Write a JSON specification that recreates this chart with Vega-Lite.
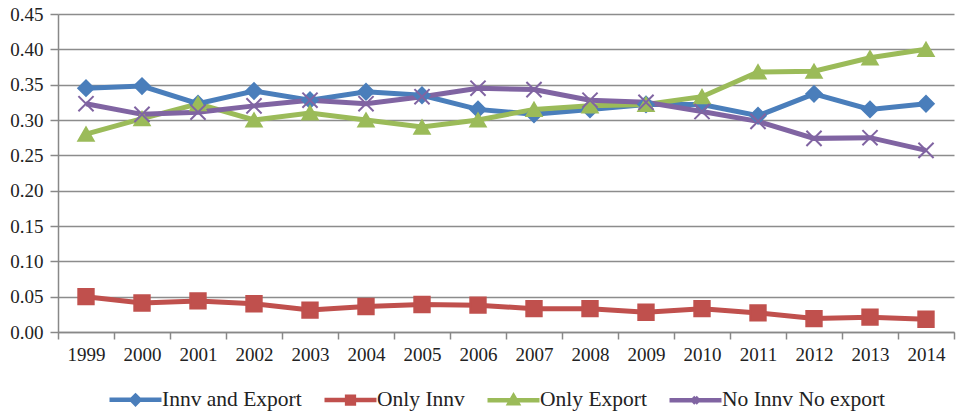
{
  "$schema": "https://vega.github.io/schema/vega-lite/v6.json",
  "width": 896,
  "height": 318,
  "autosize": {"type": "none"},
  "padding": {"left": 58, "top": 14, "right": 5, "bottom": 81},
  "background": "white",
  "config": {
    "view": {"stroke": null},
    "font": "Liberation Serif",
    "axis": {"labelFont": "Liberation Serif", "labelFontSize": 19, "labelColor": "#222", "domainColor": "#888", "tickColor": "#888", "gridColor": "#8c8c8c", "gridWidth": 1.5, "domainWidth": 1.5, "tickWidth": 1.5},
    "legend": {"labelFont": "Liberation Serif", "labelFontSize": 21.5, "labelColor": "#222", "labelLimit": 400}
  },
  "data": {"values": [
    {"year": "1999", "series": "Innv and Export", "v": 0.345},
    {"year": "2000", "series": "Innv and Export", "v": 0.348},
    {"year": "2001", "series": "Innv and Export", "v": 0.323},
    {"year": "2002", "series": "Innv and Export", "v": 0.341},
    {"year": "2003", "series": "Innv and Export", "v": 0.328},
    {"year": "2004", "series": "Innv and Export", "v": 0.340},
    {"year": "2005", "series": "Innv and Export", "v": 0.335},
    {"year": "2006", "series": "Innv and Export", "v": 0.315},
    {"year": "2007", "series": "Innv and Export", "v": 0.308},
    {"year": "2008", "series": "Innv and Export", "v": 0.315},
    {"year": "2009", "series": "Innv and Export", "v": 0.322},
    {"year": "2010", "series": "Innv and Export", "v": 0.322},
    {"year": "2011", "series": "Innv and Export", "v": 0.306},
    {"year": "2012", "series": "Innv and Export", "v": 0.337},
    {"year": "2013", "series": "Innv and Export", "v": 0.315},
    {"year": "2014", "series": "Innv and Export", "v": 0.323},
    {"year": "1999", "series": "Only Innv", "v": 0.050},
    {"year": "2000", "series": "Only Innv", "v": 0.041},
    {"year": "2001", "series": "Only Innv", "v": 0.044},
    {"year": "2002", "series": "Only Innv", "v": 0.040},
    {"year": "2003", "series": "Only Innv", "v": 0.031},
    {"year": "2004", "series": "Only Innv", "v": 0.036},
    {"year": "2005", "series": "Only Innv", "v": 0.039},
    {"year": "2006", "series": "Only Innv", "v": 0.038},
    {"year": "2007", "series": "Only Innv", "v": 0.033},
    {"year": "2008", "series": "Only Innv", "v": 0.033},
    {"year": "2009", "series": "Only Innv", "v": 0.028},
    {"year": "2010", "series": "Only Innv", "v": 0.033},
    {"year": "2011", "series": "Only Innv", "v": 0.027},
    {"year": "2012", "series": "Only Innv", "v": 0.019},
    {"year": "2013", "series": "Only Innv", "v": 0.021},
    {"year": "2014", "series": "Only Innv", "v": 0.018},
    {"year": "1999", "series": "Only Export", "v": 0.280},
    {"year": "2000", "series": "Only Export", "v": 0.302},
    {"year": "2001", "series": "Only Export", "v": 0.323},
    {"year": "2002", "series": "Only Export", "v": 0.300},
    {"year": "2003", "series": "Only Export", "v": 0.310},
    {"year": "2004", "series": "Only Export", "v": 0.300},
    {"year": "2005", "series": "Only Export", "v": 0.290},
    {"year": "2006", "series": "Only Export", "v": 0.300},
    {"year": "2007", "series": "Only Export", "v": 0.315},
    {"year": "2008", "series": "Only Export", "v": 0.320},
    {"year": "2009", "series": "Only Export", "v": 0.322},
    {"year": "2010", "series": "Only Export", "v": 0.333},
    {"year": "2011", "series": "Only Export", "v": 0.368},
    {"year": "2012", "series": "Only Export", "v": 0.369},
    {"year": "2013", "series": "Only Export", "v": 0.388},
    {"year": "2014", "series": "Only Export", "v": 0.400},
    {"year": "1999", "series": "No Innv No export", "v": 0.323},
    {"year": "2000", "series": "No Innv No export", "v": 0.308},
    {"year": "2001", "series": "No Innv No export", "v": 0.311},
    {"year": "2002", "series": "No Innv No export", "v": 0.320},
    {"year": "2003", "series": "No Innv No export", "v": 0.328},
    {"year": "2004", "series": "No Innv No export", "v": 0.323},
    {"year": "2005", "series": "No Innv No export", "v": 0.333},
    {"year": "2006", "series": "No Innv No export", "v": 0.345},
    {"year": "2007", "series": "No Innv No export", "v": 0.343},
    {"year": "2008", "series": "No Innv No export", "v": 0.328},
    {"year": "2009", "series": "No Innv No export", "v": 0.325},
    {"year": "2010", "series": "No Innv No export", "v": 0.312},
    {"year": "2011", "series": "No Innv No export", "v": 0.298},
    {"year": "2012", "series": "No Innv No export", "v": 0.274},
    {"year": "2013", "series": "No Innv No export", "v": 0.275},
    {"year": "2014", "series": "No Innv No export", "v": 0.257}
  ]},
  "encoding": {
    "x": {"field": "year", "type": "ordinal", "title": null,
      "scale": {"paddingInner": 0, "paddingOuter": 0},
      "axis": {"labelAngle": 0, "tickBand": "extent", "tickSize": 7, "labelPadding": 6, "domain": true, "grid": false, "labelFont": "Liberation Serif", "labelFontSize": 19}},
    "y": {"field": "v", "type": "quantitative", "title": null,
      "scale": {"domain": [0, 0.45], "nice": false},
      "axis": {"values": [0, 0.05, 0.1, 0.15, 0.2, 0.25, 0.3, 0.35, 0.4, 0.45], "format": ".2f", "tickSize": 8, "labelPadding": 7, "grid": true, "labelFont": "Liberation Serif", "labelFontSize": 19}}
  },
  "layer": [
    {"mark": {"type": "line", "strokeWidth": 5},
      "encoding": {
        "color": {"field": "series", "type": "nominal",
          "scale": {"domain": ["Innv and Export", "Only Innv", "Only Export", "No Innv No export"], "range": ["#4a7ebb", "#c0504d", "#9bbb59", "#8064a2"]},
          "legend": null}
      }},
    {"mark": {"type": "point", "filled": true, "opacity": 1, "strokeWidth": 2},
      "encoding": {
        "color": {"field": "series", "type": "nominal",
          "scale": {"domain": ["Innv and Export", "Only Innv", "Only Export", "No Innv No export"], "range": ["#4a7ebb", "#c0504d", "#9bbb59", "#8064a2"]},
          "legend": null},
        "shape": {"field": "series", "type": "nominal",
          "scale": {"domain": ["Innv and Export", "Only Innv", "Only Export", "No Innv No export"], "range": ["diamond", "square", "triangle-up", "M-1,-1L1,1M-1,1L1,-1"]},
          "legend": null},
        "stroke": {"field": "series", "type": "nominal",
          "scale": {"domain": ["Innv and Export", "Only Innv", "Only Export", "No Innv No export"], "range": ["#4a7ebb", "#c0504d", "#9bbb59", "#8064a2"]},
          "legend": null},
        "size": {"field": "series", "type": "nominal",
          "scale": {"domain": ["Innv and Export", "Only Innv", "Only Export", "No Innv No export"], "range": [240, 230, 250, 300]},
          "legend": null}
      }},
    {"mark": {"type": "point", "filled": true, "opacity": 0, "strokeWidth": 4.5},
      "encoding": {
        "color": {"field": "series", "type": "nominal",
          "scale": {"domain": ["Innv and Export", "Only Innv", "Only Export", "No Innv No export"], "range": ["#4a7ebb", "#c0504d", "#9bbb59", "#8064a2"]},
          "legend": {"title": null, "orient": "none", "legendX": 49, "legendY": 357, "direction": "horizontal", "columnPadding": 13, "symbolSize": 2704, "symbolOpacity": 1, "symbolStrokeWidth": 4.5, "labelOffset": -2, "labelLimit": 400, "labelFont": "Liberation Serif", "labelFontSize": 21.5}},
        "stroke": {"field": "series", "type": "nominal",
          "scale": {"domain": ["Innv and Export", "Only Innv", "Only Export", "No Innv No export"], "range": ["#4a7ebb", "#c0504d", "#9bbb59", "#8064a2"]},
          "legend": {"title": null, "orient": "none", "legendX": 49, "legendY": 357, "direction": "horizontal", "columnPadding": 13, "symbolSize": 2704, "symbolOpacity": 1, "symbolStrokeWidth": 4.5, "labelOffset": -2, "labelLimit": 400, "labelFont": "Liberation Serif", "labelFontSize": 21.5}},
        "shape": {"field": "series", "type": "nominal",
          "scale": {"domain": ["Innv and Export", "Only Innv", "Only Export", "No Innv No export"], "range": [
            "M-1,0L1,0M0,-0.15L0.15,0L0,0.15L-0.15,0Z",
            "M-1,0L1,0M-0.13,-0.13L0.13,-0.13L0.13,0.13L-0.13,0.13Z",
            "M-1,0L1,0M0,-0.15L0.15,0.11L-0.15,0.11Z",
            "M-1,0L1,0M-0.11,-0.11L0.11,0.11M-0.11,0.11L0.11,-0.11"]},
          "legend": {"title": null, "orient": "none", "legendX": 49, "legendY": 357, "direction": "horizontal", "columnPadding": 13, "symbolSize": 2704, "symbolOpacity": 1, "symbolStrokeWidth": 4.5, "labelOffset": -2, "labelLimit": 400, "labelFont": "Liberation Serif", "labelFontSize": 21.5}}
      }}
  ],
  "resolve": {"scale": {"shape": "independent", "color": "independent", "stroke": "independent", "size": "independent"}}
}
